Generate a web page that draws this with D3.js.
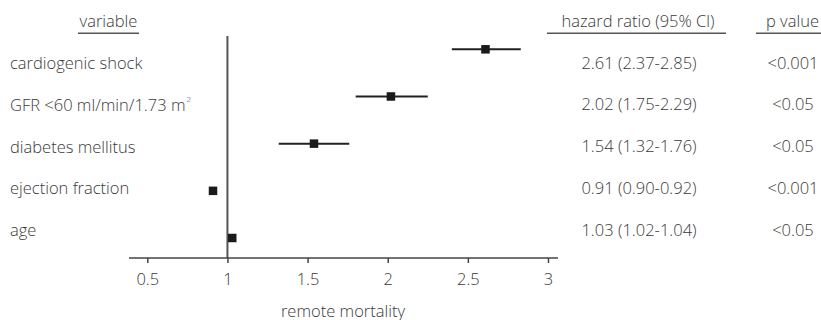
<!DOCTYPE html>
<html>
<head>
<meta charset="utf-8">
<script src="https://cdn.jsdelivr.net/npm/d3@7"></script>
<style>
  html, body { margin: 0; padding: 0; background: #fff; }
  svg { display: block; }
  text { font-family: "Open Sans", sans-serif; font-size: 16.5px; font-weight: 300; fill: #3a3a3a; }
</style>
</head>
<body>
<svg id="chart" width="821" height="320"></svg>
<script>
// ---- data ----
const variables = ["cardiogenic shock", "GFR <60 ml/min/1.73 m", "diabetes mellitus", "ejection fraction", "age"];
const superscripts = ["", "2", "", "", ""];
const hazardRatio = [2.61, 2.02, 1.54, 0.91, 1.03];
const ciLow = [2.40, 1.80, 1.32, 0.90, 1.02];
const ciHigh = [2.83, 2.25, 1.76, 0.92, 1.04];
const hrText = ["2.61 (2.37-2.85)", "2.02 (1.75-2.29)", "1.54 (1.32-1.76)", "0.91 (0.90-0.92)", "1.03 (1.02-1.04)"];
const pText = ["<0.001", "<0.05", "<0.05", "<0.001", "<0.05"];
const xTicks = [0.5, 1, 1.5, 2, 2.5, 3];
const headers = ["variable", "hazard ratio (95% Cl)", "p value"];
const xTitle = "remote mortality";

const svg = d3.select("#chart");

const x = d3.scaleLinear().domain([0.5, 3]).range([147.3, 548]);
const idx = d3.range(variables.length);
const yPoint = d3.scalePoint().domain(idx).range([49.3, 238]);
const yLabel = d3.scalePoint().domain(idx).range([62, 229]);

const axisY = 258;

// headers with underlines
const headerPos = [
  {cx: 108.5, x1: 78, x2: 139},
  {cx: 638, x1: 547, x2: 726},
  {cx: 792.5, x1: 756, x2: 821}
];
headers.forEach((h, i) => {
  svg.append("text").attr("x", headerPos[i].cx).attr("y", 20)
    .attr("text-anchor", "middle").attr("dominant-baseline", "central").text(h);
  svg.append("line").attr("x1", headerPos[i].x1).attr("x2", headerPos[i].x2)
    .attr("y1", 33.3).attr("y2", 33.3).attr("stroke", "#555").attr("stroke-width", 1.5);
});

// variable labels
const lab = svg.append("g").selectAll("text").data(idx).join("text")
  .attr("x", 10).attr("y", d => yLabel(d)).attr("dominant-baseline", "central");
lab.append("tspan").text(d => variables[d]);
lab.append("tspan").attr("dx", 1).attr("dy", -6).attr("font-size", 8).text(d => superscripts[d]);

// hazard ratio text
svg.append("g").selectAll("text").data(idx).join("text")
  .attr("x", 639).attr("y", d => yLabel(d)).attr("text-anchor", "middle")
  .attr("dominant-baseline", "central").text(d => hrText[d]);
// p value text
svg.append("g").selectAll("text").data(idx).join("text")
  .attr("x", 793).attr("y", d => yLabel(d)).attr("text-anchor", "middle")
  .attr("dominant-baseline", "central").text(d => pText[d]);

// reference line at 1
svg.append("line").attr("x1", x(1)).attr("x2", x(1)).attr("y1", 36).attr("y2", axisY)
  .attr("stroke", "#555").attr("stroke-width", 2);

// CI lines
svg.append("g").selectAll("line").data(idx).join("line")
  .attr("x1", d => x(ciLow[d])).attr("x2", d => x(ciHigh[d]))
  .attr("y1", d => yPoint(d)).attr("y2", d => yPoint(d))
  .attr("stroke", "#222").attr("stroke-width", 2);

// markers
const ms = 8.5;
svg.append("g").selectAll("rect").data(idx).join("rect")
  .attr("x", d => x(hazardRatio[d]) - ms / 2).attr("y", d => yPoint(d) - ms / 2)
  .attr("width", ms).attr("height", ms).attr("fill", "#1a1a1a");

// x axis
const axis = d3.axisBottom(x).tickValues(xTicks).tickSize(5).tickSizeOuter(0).tickPadding(10)
  .tickFormat(d3.format("~g"));
const gAxis = svg.append("g").attr("transform", `translate(0,${axisY})`).call(axis);
gAxis.attr("font-family", null).attr("font-size", null);
gAxis.select(".domain").remove();
gAxis.append("line").attr("x1", 129).attr("x2", 558).attr("y1", 0).attr("y2", 0)
  .attr("stroke", "#444").attr("stroke-width", 1.5);
gAxis.selectAll(".tick line").attr("stroke", "#444").attr("stroke-width", 1.5);
gAxis.selectAll(".tick text").style("fill", "#3a3a3a");

svg.append("text").attr("x", 343).attr("y", 310).attr("text-anchor", "middle")
  .attr("dominant-baseline", "central").text(xTitle);
</script>
</body>
</html>
